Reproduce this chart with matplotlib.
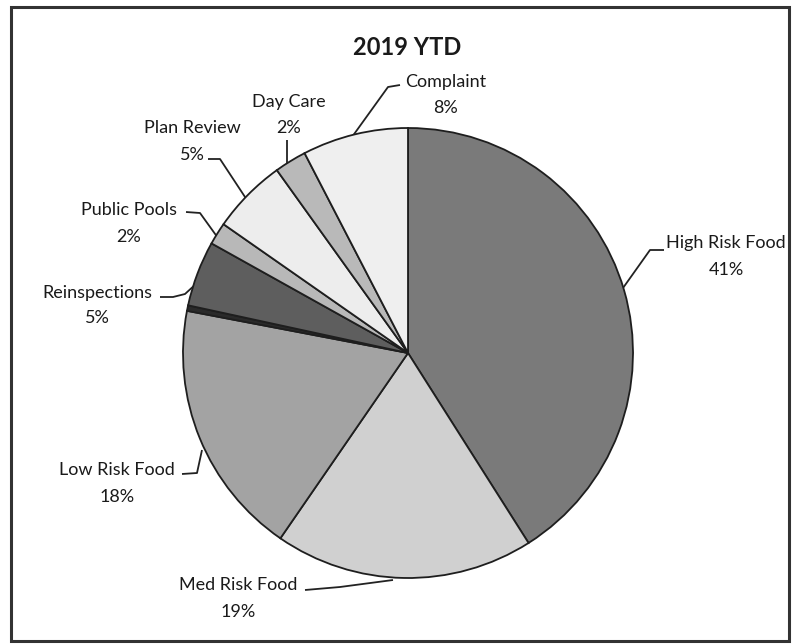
import matplotlib
matplotlib.use("Agg")
import matplotlib.pyplot as plt
from matplotlib.patches import Rectangle

plt.rcParams['font.family'] = ['Lato', 'DejaVu Sans']

categories = ["High Risk Food", "Med Risk Food", "Low Risk Food", "", "Reinspections",
              "Public Pools", "Plan Review", "Day Care", "Complaint"]
values = [41.0, 18.6, 18.4, 0.4, 4.7, 1.6, 5.4, 2.3, 7.6]
colors = ["#7a7a7a", "#d0d0d0", "#a3a3a3", "#2a2a2a", "#5e5e5e",
          "#b8b8b8", "#ededed", "#b9b9b9", "#efefef"]
title = "2019 YTD"

W, H = 793, 644
fig = plt.figure(figsize=(W / 100, H / 100), dpi=100)
ax = fig.add_axes([0, 0, 1, 1])
ax.set_xlim(0, W)
ax.set_ylim(H, 0)
ax.axis('off')

cx, cy, r = 408, 353, 225
pax = fig.add_axes([(cx - r) / W, 1 - (cy + r) / H, 2 * r / W, 2 * r / H])
pax.pie(values, colors=colors, startangle=90, counterclock=False,
        wedgeprops=dict(edgecolor='#1e1e1e', linewidth=1.3))
pax.set_xlim(-1, 1)
pax.set_ylim(-1, 1)
pax.axis('off')

ax.add_patch(Rectangle((11, 7), 778, 634, fill=False, edgecolor='#333333', lw=2.2))

ax.text(407, 47, title, ha='center', va='center', fontsize=17, fontweight='bold', color='#1a1a1a')

total = sum(values)
pcts = [f"{round(v / total * 100):.0f}%" for v in values]

layout = {
    "High Risk Food": (726, 243, 270, [(623, 288), (650, 250), (664, 250)]),
    "Med Risk Food": (238, 585, 612, [(393, 580), (340, 587), (305, 590)]),
    "Low Risk Food": (117, 470, 497, [(202, 450), (197, 473), (182, 474)]),
    "Reinspections": (97, 293, 318, [(197, 283), (185, 294), (173, 297), (160, 297)]),
    "Public Pools": (129, 210, 237, [(218, 238), (200, 213), (186, 212)]),
    "Plan Review": (192, 128, 155, [(247, 200), (220, 159), (208, 159)]),
    "Day Care": (289, 102, 128, [(287, 167), (287, 140)]),
    "Complaint": (446, 82, 108, [(352, 137), (388, 87), (400, 85)]),
}

for name, pct in zip(categories, pcts):
    if name not in layout:
        continue
    x, y1, y2, pts = layout[name]
    ax.text(x, y1, name, ha='center', va='center', fontsize=13, color='#1a1a1a')
    ax.text(x, y2, pct, ha='center', va='center', fontsize=13, color='#1a1a1a')
    xs, ys = zip(*pts)
    ax.plot(xs, ys, color='#222222', lw=1.3, solid_capstyle='butt')

fig.savefig("out.png", dpi=100)
